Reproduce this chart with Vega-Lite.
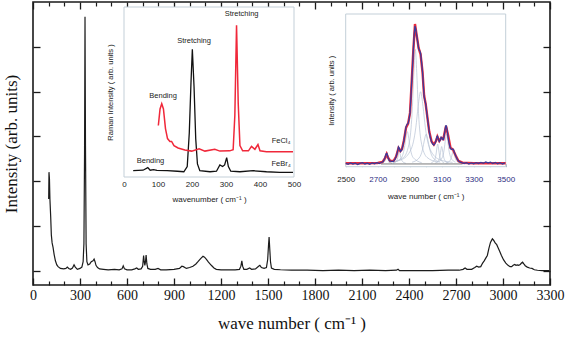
{
"$schema": "https://vega.github.io/schema/vega-lite/v6.json",
"width": 517, "height": 283,
"autosize": {"type": "none"},
"padding": {"left": 33, "top": 2, "right": 17, "bottom": 52},
"config": {"view": {"stroke": "#1a1a1a", "strokeWidth": 1.6}, "axis": {"domain": false, "grid": false}},
"datasets": {
"main": [
{"x":100,"y":1.6},{"x":102,"y":2.2},{"x":105,"y":2.05},{"x":108,"y":1.6},{"x":113,"y":1.2},{"x":117,"y":0.8},{"x":122,"y":0.62},{"x":128,"y":0.52},{"x":135,"y":0.36},{"x":143,"y":0.22},{"x":152,"y":0.13},{"x":160,"y":0.09},{"x":175,"y":0.05},{"x":196,"y":0.04},{"x":210,"y":0.05},{"x":219,"y":0.08},{"x":228,"y":0.05},{"x":240,"y":0.03},{"x":252,"y":0.06},{"x":262,"y":0.13},{"x":270,"y":0.08},{"x":283,"y":0.03},{"x":300,"y":0.05},{"x":312,"y":0.08},{"x":320,"y":0.2},{"x":325,"y":0.6},{"x":329,"y":2.6},{"x":332,"y":5.67},{"x":335,"y":2.8},{"x":339,"y":0.6},{"x":344,"y":0.2},{"x":351,"y":0.13},{"x":362,"y":0.15},{"x":372,"y":0.2},{"x":383,"y":0.22},{"x":390,"y":0.26},{"x":396,"y":0.2},{"x":402,"y":0.12},{"x":412,"y":0.07},{"x":425,"y":0.04},{"x":450,"y":0.03},{"x":480,"y":0.02},{"x":520,"y":0.03},{"x":550,"y":0.02},{"x":568,"y":0.04},{"x":576,"y":0.11},{"x":584,"y":0.04},{"x":600,"y":0.02},{"x":630,"y":0.02},{"x":650,"y":0.04},{"x":662,"y":0.06},{"x":672,"y":0.03},{"x":690,"y":0.04},{"x":700,"y":0.1},{"x":706,"y":0.34},{"x":710,"y":0.2},{"x":714,"y":0.12},{"x":718,"y":0.2},{"x":722,"y":0.35},{"x":727,"y":0.15},{"x":733,"y":0.05},{"x":750,"y":0.03},{"x":780,"y":0.03},{"x":798,"y":0.05},{"x":815,"y":0.02},{"x":850,"y":0.02},{"x":900,"y":0.03},{"x":935,"y":0.05},{"x":950,"y":0.1},{"x":960,"y":0.09},{"x":979,"y":0.05},{"x":1000,"y":0.07},{"x":1021,"y":0.1},{"x":1040,"y":0.15},{"x":1053,"y":0.2},{"x":1070,"y":0.27},{"x":1085,"y":0.32},{"x":1095,"y":0.3},{"x":1107,"y":0.25},{"x":1120,"y":0.19},{"x":1138,"y":0.12},{"x":1155,"y":0.06},{"x":1170,"y":0.03},{"x":1200,"y":0.02},{"x":1250,"y":0.02},{"x":1290,"y":0.02},{"x":1318,"y":0.03},{"x":1327,"y":0.1},{"x":1333,"y":0.22},{"x":1338,"y":0.1},{"x":1346,"y":0.03},{"x":1365,"y":0.03},{"x":1383,"y":0.06},{"x":1395,"y":0.03},{"x":1420,"y":0.04},{"x":1440,"y":0.1},{"x":1448,"y":0.12},{"x":1458,"y":0.07},{"x":1475,"y":0.05},{"x":1490,"y":0.07},{"x":1498,"y":0.25},{"x":1503,"y":0.55},{"x":1507,"y":0.75},{"x":1511,"y":0.5},{"x":1516,"y":0.2},{"x":1522,"y":0.06},{"x":1540,"y":0.03},{"x":1580,"y":0.02},{"x":1650,"y":0.01},{"x":1750,"y":0.01},{"x":1850,"y":0.0},{"x":1950,"y":0.01},{"x":2050,"y":0.0},{"x":2150,"y":0.01},{"x":2250,"y":0.0},{"x":2320,"y":0.01},{"x":2330,"y":0.03},{"x":2340,"y":0.0},{"x":2450,"y":0.0},{"x":2550,"y":0.0},{"x":2650,"y":0.01},{"x":2720,"y":0.01},{"x":2745,"y":0.03},{"x":2758,"y":0.06},{"x":2770,"y":0.03},{"x":2800,"y":0.03},{"x":2820,"y":0.07},{"x":2832,"y":0.1},{"x":2845,"y":0.08},{"x":2858,"y":0.09},{"x":2870,"y":0.17},{"x":2880,"y":0.22},{"x":2890,"y":0.28},{"x":2900,"y":0.34},{"x":2910,"y":0.5},{"x":2920,"y":0.63},{"x":2932,"y":0.71},{"x":2940,"y":0.68},{"x":2950,"y":0.62},{"x":2960,"y":0.58},{"x":2968,"y":0.52},{"x":2978,"y":0.44},{"x":2990,"y":0.34},{"x":3004,"y":0.24},{"x":3018,"y":0.17},{"x":3032,"y":0.12},{"x":3045,"y":0.09},{"x":3055,"y":0.09},{"x":3065,"y":0.12},{"x":3075,"y":0.14},{"x":3083,"y":0.12},{"x":3092,"y":0.13},{"x":3100,"y":0.12},{"x":3110,"y":0.14},{"x":3118,"y":0.17},{"x":3125,"y":0.19},{"x":3133,"y":0.15},{"x":3142,"y":0.11},{"x":3155,"y":0.08},{"x":3170,"y":0.06},{"x":3185,"y":0.05},{"x":3200,"y":0.02},{"x":3220,"y":0.01},{"x":3250,"y":0.0},{"x":3275,"y":0.0},{"x":3295,"y":0.0}
],
"inset1": [
{"s":"FeBr4","x":27,"y":0.24},{"s":"FeBr4","x":56,"y":0.26},{"s":"FeBr4","x":70,"y":0.36},{"s":"FeBr4","x":77,"y":0.26},{"s":"FeBr4","x":87,"y":0.28},{"s":"FeBr4","x":97,"y":0.25},{"s":"FeBr4","x":127,"y":0.24},{"s":"FeBr4","x":157,"y":0.22},{"s":"FeBr4","x":176,"y":0.2},{"s":"FeBr4","x":186,"y":0.4},{"s":"FeBr4","x":192,"y":1.68},{"s":"FeBr4","x":197,"y":3.6},{"s":"FeBr4","x":201,"y":4.88},{"s":"FeBr4","x":206,"y":3.45},{"s":"FeBr4","x":211,"y":1.45},{"s":"FeBr4","x":216,"y":0.5},{"s":"FeBr4","x":223,"y":0.24},{"s":"FeBr4","x":253,"y":0.2},{"s":"FeBr4","x":272,"y":0.22},{"s":"FeBr4","x":282,"y":0.46},{"s":"FeBr4","x":290,"y":0.4},{"s":"FeBr4","x":296,"y":0.46},{"s":"FeBr4","x":302,"y":0.74},{"s":"FeBr4","x":307,"y":0.4},{"s":"FeBr4","x":314,"y":0.22},{"s":"FeBr4","x":341,"y":0.2},{"s":"FeBr4","x":380,"y":0.24},{"s":"FeBr4","x":419,"y":0.2},{"s":"FeBr4","x":458,"y":0.18},{"s":"FeBr4","x":497,"y":0.18},
{"s":"FeCl4","x":101,"y":1.97},{"s":"FeCl4","x":106,"y":2.6},{"s":"FeCl4","x":111,"y":2.8},{"s":"FeCl4","x":116,"y":2.6},{"s":"FeCl4","x":122,"y":1.85},{"s":"FeCl4","x":128,"y":1.47},{"s":"FeCl4","x":135,"y":1.36},{"s":"FeCl4","x":140,"y":1.36},{"s":"FeCl4","x":147,"y":1.2},{"s":"FeCl4","x":159,"y":1.11},{"s":"FeCl4","x":179,"y":1.03},{"s":"FeCl4","x":199,"y":0.99},{"s":"FeCl4","x":221,"y":1.08},{"s":"FeCl4","x":238,"y":0.99},{"s":"FeCl4","x":267,"y":1.06},{"s":"FeCl4","x":282,"y":0.99},{"s":"FeCl4","x":311,"y":1.0},{"s":"FeCl4","x":321,"y":1.04},{"s":"FeCl4","x":326,"y":2.35},{"s":"FeCl4","x":331,"y":5.8},{"s":"FeCl4","x":336,"y":2.8},{"s":"FeCl4","x":341,"y":1.2},{"s":"FeCl4","x":349,"y":1.0},{"s":"FeCl4","x":366,"y":1.0},{"s":"FeCl4","x":375,"y":1.17},{"s":"FeCl4","x":385,"y":1.06},{"s":"FeCl4","x":394,"y":1.24},{"s":"FeCl4","x":400,"y":1.0},{"s":"FeCl4","x":419,"y":0.97},{"s":"FeCl4","x":458,"y":0.97},{"s":"FeCl4","x":497,"y":0.97}
],
"labels1": [
{"x":206,"y":5.2,"t":"Stretching"},{"x":346,"y":6.23,"t":"Stretching"},{"x":115,"y":3.09,"t":"Bending"},{"x":78,"y":0.63,"t":"Bending"},{"x":462,"y":1.36,"t":"FeCl₄"},{"x":462,"y":0.5,"t":"FeBr₄"}
],
"data2": [
{"x":2500,"y":0.02},{"x":2515,"y":-0.01},{"x":2530,"y":0.04},{"x":2545,"y":0.0},{"x":2560,"y":0.03},{"x":2575,"y":-0.02},{"x":2590,"y":0.02},{"x":2605,"y":0.05},{"x":2620,"y":0.0},{"x":2635,"y":0.03},{"x":2650,"y":-0.01},{"x":2665,"y":0.04},{"x":2680,"y":0.01},{"x":2695,"y":0.05},{"x":2710,"y":0.02},{"x":2722,"y":0.06},{"x":2735,"y":0.1},{"x":2745,"y":0.25},{"x":2752,"y":0.4},{"x":2758,"y":0.42},{"x":2765,"y":0.25},{"x":2773,"y":0.13},{"x":2785,"y":0.1},{"x":2798,"y":0.1},{"x":2808,"y":0.18},{"x":2815,"y":0.3},{"x":2822,"y":0.45},{"x":2830,"y":0.68},{"x":2836,"y":0.62},{"x":2842,"y":0.5},{"x":2850,"y":0.55},{"x":2858,"y":0.75},{"x":2864,"y":0.95},{"x":2870,"y":1.2},{"x":2877,"y":1.5},{"x":2884,"y":1.6},{"x":2890,"y":1.62},{"x":2896,"y":1.8},{"x":2902,"y":2.05},{"x":2907,"y":2.6},{"x":2912,"y":3.25},{"x":2918,"y":3.95},{"x":2923,"y":4.6},{"x":2928,"y":5.2},{"x":2933,"y":5.54},{"x":2938,"y":5.4},{"x":2944,"y":5.15},{"x":2950,"y":4.9},{"x":2956,"y":4.62},{"x":2962,"y":4.55},{"x":2968,"y":4.45},{"x":2974,"y":4.1},{"x":2980,"y":3.7},{"x":2985,"y":3.2},{"x":2990,"y":2.7},{"x":2995,"y":2.55},{"x":3000,"y":2.42},{"x":3005,"y":2.15},{"x":3010,"y":1.9},{"x":3016,"y":1.6},{"x":3022,"y":1.3},{"x":3029,"y":1.05},{"x":3037,"y":0.88},{"x":3044,"y":0.8},{"x":3051,"y":0.76},{"x":3058,"y":0.82},{"x":3064,"y":0.92},{"x":3070,"y":1.1},{"x":3074,"y":1.12},{"x":3079,"y":1.0},{"x":3085,"y":0.9},{"x":3091,"y":0.95},{"x":3096,"y":1.07},{"x":3101,"y":1.05},{"x":3106,"y":0.97},{"x":3111,"y":0.98},{"x":3117,"y":1.2},{"x":3122,"y":1.42},{"x":3127,"y":1.56},{"x":3133,"y":1.4},{"x":3138,"y":1.18},{"x":3143,"y":0.95},{"x":3149,"y":0.75},{"x":3155,"y":0.62},{"x":3162,"y":0.58},{"x":3168,"y":0.6},{"x":3173,"y":0.58},{"x":3180,"y":0.45},{"x":3188,"y":0.33},{"x":3196,"y":0.2},{"x":3205,"y":0.12},{"x":3213,"y":0.08},{"x":3225,"y":0.05},{"x":3240,"y":0.02},{"x":3255,"y":0.05},{"x":3270,"y":0.0},{"x":3285,"y":0.04},{"x":3300,"y":0.01},{"x":3315,"y":0.05},{"x":3330,"y":0.02},{"x":3345,"y":0.06},{"x":3360,"y":0.03},{"x":3375,"y":0.08},{"x":3390,"y":0.04},{"x":3405,"y":0.07},{"x":3420,"y":0.02},{"x":3435,"y":0.06},{"x":3450,"y":0.01},{"x":3465,"y":0.05},{"x":3480,"y":0.0},{"x":3495,"y":0.04}
],
"fit2": [
{"x":2500,"y":0.03},{"x":2600,"y":0.03},{"x":2700,"y":0.04},{"x":2730,"y":0.08},{"x":2745,"y":0.22},{"x":2756,"y":0.4},{"x":2765,"y":0.25},{"x":2778,"y":0.12},{"x":2800,"y":0.13},{"x":2815,"y":0.3},{"x":2830,"y":0.64},{"x":2842,"y":0.52},{"x":2852,"y":0.6},{"x":2864,"y":0.95},{"x":2877,"y":1.45},{"x":2890,"y":1.62},{"x":2902,"y":2.05},{"x":2912,"y":3.25},{"x":2923,"y":4.6},{"x":2933,"y":5.62},{"x":2944,"y":5.15},{"x":2956,"y":4.65},{"x":2968,"y":4.4},{"x":2980,"y":3.7},{"x":2990,"y":2.75},{"x":3000,"y":2.4},{"x":3010,"y":1.9},{"x":3022,"y":1.3},{"x":3037,"y":0.9},{"x":3051,"y":0.78},{"x":3064,"y":0.92},{"x":3073,"y":1.1},{"x":3085,"y":0.92},{"x":3098,"y":1.05},{"x":3110,"y":1.0},{"x":3127,"y":1.52},{"x":3140,"y":1.15},{"x":3155,"y":0.65},{"x":3170,"y":0.58},{"x":3188,"y":0.33},{"x":3205,"y":0.12},{"x":3230,"y":0.05},{"x":3300,"y":0.03},{"x":3400,"y":0.03},{"x":3500,"y":0.03}
],
"comp2": [
{"c":"C1","x":2795,"y":0.075},{"c":"C1","x":2863,"y":0.27},{"c":"C1","x":2899,"y":0.92},{"c":"C1","x":2917,"y":2.3},{"c":"C1","x":2926,"y":3.68},{"c":"C1","x":2935,"y":4.6},{"c":"C1","x":2944,"y":3.68},{"c":"C1","x":2953,"y":2.3},{"c":"C1","x":2971,"y":0.92},{"c":"C1","x":3007,"y":0.27},{"c":"C1","x":3075,"y":0.075},
{"c":"C2","x":2768,"y":0.064},{"c":"C2","x":2848,"y":0.17},{"c":"C2","x":2908,"y":0.58},{"c":"C2","x":2938,"y":1.45},{"c":"C2","x":2953,"y":2.32},{"c":"C2","x":2968,"y":2.9},{"c":"C2","x":2983,"y":2.32},{"c":"C2","x":2998,"y":1.45},{"c":"C2","x":3028,"y":0.58},{"c":"C2","x":3088,"y":0.17},{"c":"C2","x":3168,"y":0.064},
{"c":"C3","x":2795,"y":0.05},{"c":"C3","x":2849,"y":0.26},{"c":"C3","x":2867,"y":0.65},{"c":"C3","x":2876,"y":1.04},{"c":"C3","x":2885,"y":1.3},{"c":"C3","x":2894,"y":1.04},{"c":"C3","x":2903,"y":0.65},{"c":"C3","x":2921,"y":0.26},{"c":"C3","x":2975,"y":0.05},
{"c":"C4","x":2915,"y":0.07},{"c":"C4","x":2959,"y":0.24},{"c":"C4","x":2981,"y":0.6},{"c":"C4","x":2992,"y":0.96},{"c":"C4","x":3003,"y":1.2},{"c":"C4","x":3014,"y":0.96},{"c":"C4","x":3025,"y":0.6},{"c":"C4","x":3047,"y":0.24},{"c":"C4","x":3091,"y":0.07},
{"c":"C5","x":3074,"y":0.07},{"c":"C5","x":3102,"y":0.24},{"c":"C5","x":3116,"y":0.6},{"c":"C5","x":3123,"y":0.96},{"c":"C5","x":3130,"y":1.2},{"c":"C5","x":3137,"y":0.96},{"c":"C5","x":3144,"y":0.6},{"c":"C5","x":3158,"y":0.24},{"c":"C5","x":3186,"y":0.07},
{"c":"C6","x":3035,"y":0.047},{"c":"C6","x":3055,"y":0.16},{"c":"C6","x":3065,"y":0.4},{"c":"C6","x":3070,"y":0.64},{"c":"C6","x":3075,"y":0.8},{"c":"C6","x":3080,"y":0.64},{"c":"C6","x":3085,"y":0.4},{"c":"C6","x":3095,"y":0.16},{"c":"C6","x":3115,"y":0.047},
{"c":"C7","x":3060,"y":0.04},{"c":"C7","x":3080,"y":0.14},{"c":"C7","x":3090,"y":0.35},{"c":"C7","x":3095,"y":0.56},{"c":"C7","x":3100,"y":0.7},{"c":"C7","x":3105,"y":0.56},{"c":"C7","x":3110,"y":0.35},{"c":"C7","x":3120,"y":0.14},{"c":"C7","x":3140,"y":0.04},
{"c":"C8","x":2795,"y":0.03},{"c":"C8","x":2815,"y":0.1},{"c":"C8","x":2825,"y":0.25},{"c":"C8","x":2830,"y":0.4},{"c":"C8","x":2835,"y":0.5},{"c":"C8","x":2840,"y":0.4},{"c":"C8","x":2845,"y":0.25},{"c":"C8","x":2855,"y":0.1},{"c":"C8","x":2875,"y":0.03},
{"c":"C9","x":2725,"y":0.02},{"c":"C9","x":2741,"y":0.08},{"c":"C9","x":2749,"y":0.19},{"c":"C9","x":2753,"y":0.3},{"c":"C9","x":2757,"y":0.38},{"c":"C9","x":2761,"y":0.3},{"c":"C9","x":2765,"y":0.19},{"c":"C9","x":2773,"y":0.08},{"c":"C9","x":2789,"y":0.02},
{"c":"C10","x":3124,"y":0.03},{"c":"C10","x":3148,"y":0.1},{"c":"C10","x":3160,"y":0.25},{"c":"C10","x":3166,"y":0.4},{"c":"C10","x":3172,"y":0.5},{"c":"C10","x":3178,"y":0.4},{"c":"C10","x":3184,"y":0.25},{"c":"C10","x":3196,"y":0.1},{"c":"C10","x":3220,"y":0.03}
],
"base2": [{"x":2720,"y":0},{"x":3230,"y":0}]
},
"resolve": {"scale": {"x": "independent", "y": "independent"}, "axis": {"x": "independent", "y": "independent"}},
"layer": [
{
"data": {"name": "main"},
"mark": {"type": "line", "color": "#1c1c1c", "strokeWidth": 1.2},
"encoding": {
"x": {"field": "x", "type": "quantitative", "scale": {"domain": [0, 3300], "nice": false, "zero": false},
"axis": {"orient": "bottom", "values": [0,300,600,900,1200,1500,1800,2100,2400,2700,3000,3300], "format": "d", "labelOverlap": false, "labelFlush": false, "labelBound": false, "tickSize": -7, "tickColor": "#1a1a1a", "tickWidth": 1.3, "labelFont": "Liberation Serif", "labelFontSize": 14, "labelColor": "#111", "labelPadding": 10, "title": "wave number ( cm⁻¹ )", "titleFont": "Liberation Serif", "titleFontSize": 17, "titleFontWeight": "normal", "titleColor": "#111", "titlePadding": 13}},
"y": {"field": "y", "type": "quantitative", "scale": {"domain": [-0.32, 6], "nice": false, "zero": false},
"axis": {"orient": "left", "values": [0,1,2,3,4,5], "labels": false, "tickSize": -7, "tickColor": "#1a1a1a", "tickWidth": 1.3, "title": "Intensity (arb. units)", "titleFont": "Liberation Serif", "titleFontSize": 17, "titleFontWeight": "normal", "titleColor": "#111", "titlePadding": 12}}
}
},
{
"data": {"name": "main"},
"mark": {"type": "line", "opacity": 0},
"encoding": {
"x": {"field": "x", "type": "quantitative", "scale": {"domain": [0, 3300], "nice": false, "zero": false},
"axis": {"orient": "top", "values": [0,300,600,900,1200,1500,1800,2100,2400,2700,3000,3300], "labels": false, "tickSize": -7, "tickColor": "#1a1a1a", "tickWidth": 1.3, "title": null}},
"y": {"field": "y", "type": "quantitative", "scale": {"domain": [-0.32, 6], "nice": false, "zero": false},
"axis": {"orient": "right", "values": [0,1,2,3,4,5], "labels": false, "tickSize": -7, "tickColor": "#1a1a1a", "tickWidth": 1.3, "title": null}}
}
},
{
"data": {"name": "main"},
"mark": {"type": "line", "opacity": 0},
"encoding": {
"x": {"field": "x", "type": "quantitative", "scale": {"domain": [0, 3300], "nice": false, "zero": false},
"axis": {"orient": "bottom", "values": [100,200,400,500,700,800,1000,1100,1300,1400,1600,1700,1900,2000,2200,2300,2500,2600,2800,2900,3100,3200], "labels": false, "tickSize": -4, "tickColor": "#1a1a1a", "tickWidth": 1.2, "title": null}},
"y": {"field": "y", "type": "quantitative", "scale": {"domain": [-0.32, 6], "nice": false, "zero": false}, "axis": null}
}
},
{
"data": {"name": "main"},
"mark": {"type": "line", "opacity": 0},
"encoding": {
"x": {"field": "x", "type": "quantitative", "scale": {"domain": [0, 3300], "nice": false, "zero": false},
"axis": {"orient": "top", "values": [100,200,400,500,700,800,1000,1100,1300,1400,1600,1700,1900,2000,2200,2300,2500,2600,2800,2900,3100,3200], "labels": false, "tickSize": -4, "tickColor": "#1a1a1a", "tickWidth": 1.2, "title": null}},
"y": {"field": "y", "type": "quantitative", "scale": {"domain": [-0.32, 6], "nice": false, "zero": false}, "axis": null}
}
},
{
"data": {"values": [{}]},
"mark": {"type": "rect", "fill": "white", "stroke": "#c3cfd8", "strokeWidth": 1},
"encoding": {
"x": {"datum": 0, "type": "quantitative", "scale": {"domain": [0, 500], "range": [91, 261], "nice": false, "zero": false},
"axis": {"orient": "bottom", "offset": -108, "values": [0,100,200,300,400,500], "ticks": false, "labelFlush": false, "labelOverlap": false, "labelFont": "Liberation Sans", "labelFontSize": 8, "labelColor": "#222", "labelPadding": 3, "title": "wavenumber ( cm⁻¹ )", "titleFont": "Liberation Sans", "titleFontSize": 8, "titleFontWeight": "normal", "titleColor": "#222", "titlePadding": 7}},
"x2": {"datum": 500},
"y": {"datum": 0, "type": "quantitative", "scale": {"domain": [0, 6.5], "range": [175, 5], "nice": false, "zero": false},
"axis": {"orient": "left", "offset": -91, "values": [1,2,3,4,5,6], "labels": false, "tickSize": -3, "tickColor": "#b0bcc8", "title": "Raman Intensity ( arb. units )", "titleFont": "Liberation Sans", "titleFontSize": 7.5, "titleFontWeight": "normal", "titleColor": "#222", "titlePadding": 9}},
"y2": {"datum": 6.5}
}
},
{
"data": {"name": "inset1"},
"transform": [{"filter": "datum.s == 'FeBr4'"}],
"mark": {"type": "line", "color": "#111111", "strokeWidth": 1.3},
"encoding": {
"x": {"field": "x", "type": "quantitative", "scale": {"domain": [0, 500], "range": [91, 261], "nice": false, "zero": false}, "axis": null},
"y": {"field": "y", "type": "quantitative", "scale": {"domain": [0, 6.5], "range": [175, 5], "nice": false, "zero": false}, "axis": null}}
},
{
"data": {"name": "inset1"},
"transform": [{"filter": "datum.s == 'FeCl4'"}],
"mark": {"type": "line", "color": "#f0283a", "strokeWidth": 1.5},
"encoding": {
"x": {"field": "x", "type": "quantitative", "scale": {"domain": [0, 500], "range": [91, 261], "nice": false, "zero": false}, "axis": null},
"y": {"field": "y", "type": "quantitative", "scale": {"domain": [0, 6.5], "range": [175, 5], "nice": false, "zero": false}, "axis": null}}
},
{
"data": {"name": "labels1"},
"mark": {"type": "text", "font": "Liberation Sans", "fontSize": 7.5, "color": "#222"},
"encoding": {
"x": {"field": "x", "type": "quantitative", "scale": {"domain": [0, 500], "range": [91, 261], "nice": false, "zero": false}, "axis": null},
"y": {"field": "y", "type": "quantitative", "scale": {"domain": [0, 6.5], "range": [175, 5], "nice": false, "zero": false}, "axis": null},
"text": {"field": "t"}}
},
{
"data": {"values": [{}]},
"mark": {"type": "rect", "fill": "white", "stroke": "#c3cfd8", "strokeWidth": 1},
"encoding": {
"x": {"datum": 2500, "type": "quantitative", "scale": {"domain": [2500, 3500], "range": [312.7, 472.7], "nice": false, "zero": false},
"axis": {"orient": "bottom", "offset": -118.3, "values": [2500,2600,2700,2800,2900,3000,3100,3200,3300,3400,3500], "format": "d", "labelExpr": "datum.value % 200 == 0 ? '' : datum.label", "labelOverlap": false, "labelFlush": false, "tickSize": -3, "tickColor": "#b0bcc8", "labelFont": "Liberation Sans", "labelFontSize": 8, "labelColor": {"condition": {"test": "datum.value == 2500 || datum.value == 2900", "value": "#222"}, "value": "#2b2b80"}, "labelPadding": 12, "title": "wave number ( cm⁻¹ )", "titleFont": "Liberation Sans", "titleFontSize": 8, "titleFontWeight": "normal", "titleColor": "#222", "titlePadding": 9}},
"x2": {"datum": 3500},
"y": {"datum": -0.11, "type": "quantitative", "scale": {"domain": [-0.11, 6.02], "range": [164.7, 12], "nice": false, "zero": false},
"axis": {"orient": "left", "offset": -312.7, "values": [1,2,3,4,5], "labels": false, "tickSize": -3, "tickColor": "#b0bcc8", "title": "Intensity ( arb. units )", "titleFont": "Liberation Sans", "titleFontSize": 7.5, "titleFontWeight": "normal", "titleColor": "#222", "titlePadding": 10}},
"y2": {"datum": 6.02}
}
},
{
"data": {"name": "comp2"},
"mark": {"type": "line", "color": "#b6c2d4", "strokeWidth": 0.7, "interpolate": "monotone"},
"encoding": {
"x": {"field": "x", "type": "quantitative", "scale": {"domain": [2500, 3500], "range": [312.7, 472.7], "nice": false, "zero": false}, "axis": null},
"y": {"field": "y", "type": "quantitative", "scale": {"domain": [-0.11, 6.02], "range": [164.7, 12], "nice": false, "zero": false}, "axis": null},
"detail": {"field": "c"}}
},
{
"data": {"name": "base2"},
"mark": {"type": "line", "color": "#555555", "strokeWidth": 0.8},
"encoding": {
"x": {"field": "x", "type": "quantitative", "scale": {"domain": [2500, 3500], "range": [312.7, 472.7], "nice": false, "zero": false}, "axis": null},
"y": {"field": "y", "type": "quantitative", "scale": {"domain": [-0.11, 6.02], "range": [164.7, 12], "nice": false, "zero": false}, "axis": null}}
},
{
"data": {"name": "fit2"},
"mark": {"type": "line", "color": "#ee2a3a", "strokeWidth": 2.4},
"encoding": {
"x": {"field": "x", "type": "quantitative", "scale": {"domain": [2500, 3500], "range": [312.7, 472.7], "nice": false, "zero": false}, "axis": null},
"y": {"field": "y", "type": "quantitative", "scale": {"domain": [-0.11, 6.02], "range": [164.7, 12], "nice": false, "zero": false}, "axis": null}}
},
{
"data": {"name": "data2"},
"mark": {"type": "line", "color": "#3c3a9a", "strokeWidth": 1.3},
"encoding": {
"x": {"field": "x", "type": "quantitative", "scale": {"domain": [2500, 3500], "range": [312.7, 472.7], "nice": false, "zero": false}, "axis": null},
"y": {"field": "y", "type": "quantitative", "scale": {"domain": [-0.11, 6.02], "range": [164.7, 12], "nice": false, "zero": false}, "axis": null}}
}
]
}
